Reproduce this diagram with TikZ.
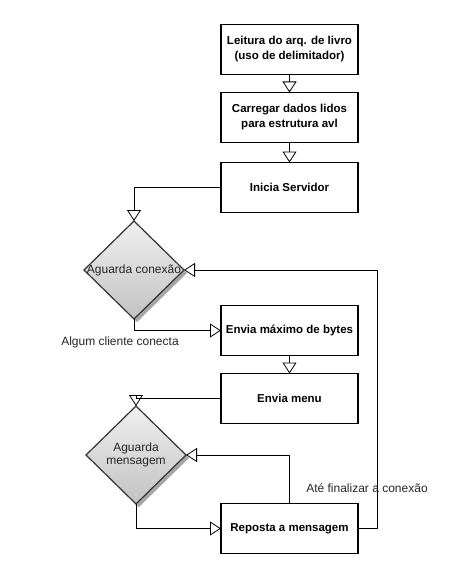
\documentclass[tikz,border=0pt]{standalone}
\usepackage{fontspec}
\setmainfont{Liberation Sans}
\usetikzlibrary{positioning, arrows.meta, shapes.geometric, shadows}

\begin{document}
\begin{tikzpicture}[
        x=1pt, y=-1pt,
        font=\fontsize{12}{13}\selectfont,
        box/.style={draw, line width=1.8pt, outer sep=0pt, align=center, minimum width=137pt, minimum height=50pt, inner sep=1pt, font=\fontsize{11.5}{15}\selectfont\bfseries},
        decision/.style={diamond, draw=black!80, line width=1.2pt, outer sep=0pt, minimum width=100pt, minimum height=98pt, inner sep=0pt, align=center, text=black!85,
            top color=black!6, bottom color=black!24, drop shadow={shadow xshift=3pt, shadow yshift=-3pt, fill=black!35, opacity=1}},
        note/.style={text=black!85},
        arrow/.style={-{Triangle[open, length=11pt, width=14pt]}, line width=0.8pt}
    ]
    \useasboundingbox (0,0) rectangle (450,575);

    % Nodes
    \node[box] (leitura) at (289.5,49.5) {Leitura do arq. de livro\\(uso de delimitador)};
    \node[box, below=18pt of leitura] (carregar) {Carregar dados lidos\\para estrutura avl};
    \node[box, below=20pt of carregar] (servidor) {Inicia Servidor};
    \node[decision] (conexao) at (134,270) {\makebox[0pt]{Aguarda conexão}};
    \node[box, below=93pt of servidor] (maximo) {Envia máximo de bytes};
    \node[box, below=18pt of maximo] (menu) {Envia menu};
    \node[decision] (mensagem) at (136,455) {Aguarda\\mensagem};
    \node[box, below=80pt of menu] (reposta) {Reposta a mensagem};

    \node[note] (cliente) at (120,342) {Algum cliente conecta};
    \node[note] (finalizar) at (367,488) {Até finalizar a conexão};

    % Arrows
    \draw[arrow] (leitura) -- (carregar);
    \draw[arrow] (carregar) -- (servidor);
    \draw[arrow] (servidor.west) -| (conexao.north);
    \draw[arrow] (conexao.south) |- (maximo.west);
    \draw[arrow] (maximo) -- (menu);
    \draw[arrow] (menu.west) -| (mensagem.north);
    \draw[arrow] (mensagem.south) |- (reposta.west);
    \draw[arrow] (reposta.north) |- (mensagem.east);
    \draw[arrow] (reposta.east) -- ++(19,0) |- (conexao.east);

\end{tikzpicture}
\end{document}
